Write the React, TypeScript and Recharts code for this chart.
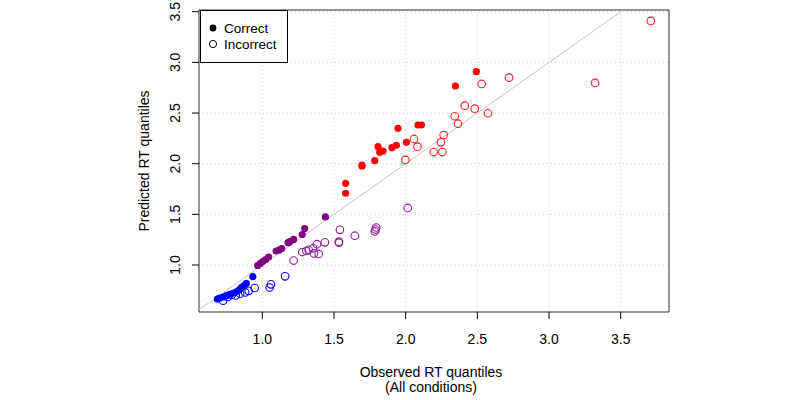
// Observed vs. predicted RT quantiles, split by accuracy and condition colour
import React from 'react';
import {
  CartesianGrid,
  Label,
  ReferenceArea,
  ReferenceLine,
  Scatter,
  ScatterChart,
  XAxis,
  YAxis,
} from 'recharts';

// Fast condition (blue)
const blueCorrectObs = [0.934, 0.888, 0.872, 0.853, 0.837, 0.819, 0.795, 0.772, 0.749, 0.725, 0.702, 0.686];
const blueCorrectPred = [0.885, 0.819, 0.796, 0.776, 0.753, 0.736, 0.721, 0.711, 0.697, 0.684, 0.674, 0.664];
const blueErrorObs = [1.159, 1.06, 1.051, 0.946, 0.904, 0.88, 0.845, 0.814, 0.786, 0.758, 0.726];
const blueErrorPred = [0.888, 0.809, 0.778, 0.773, 0.745, 0.729, 0.716, 0.699, 0.704, 0.684, 0.648];

// Middle condition (purple)
const purpleCorrectObs = [1.44, 1.295, 1.278, 1.218, 1.191, 1.18, 1.135, 1.117, 1.096, 1.044, 1.023, 1.004, 0.986, 0.967];
const purpleCorrectPred = [1.474, 1.36, 1.301, 1.252, 1.23, 1.22, 1.163, 1.148, 1.138, 1.079, 1.054, 1.037, 1.015, 0.995];
const purpleErrorObs = [2.014, 1.794, 1.789, 1.785, 1.541, 1.645, 1.436, 1.534, 1.534, 1.381, 1.353, 1.323, 1.307, 1.278, 1.36, 1.393, 1.218];
const purpleErrorPred = [1.563, 1.37, 1.35, 1.331, 1.347, 1.289, 1.224, 1.23, 1.22, 1.205, 1.165, 1.15, 1.138, 1.128, 1.114, 1.109, 1.044];

// Slow condition (red)
const redCorrectObs = [2.493, 2.347, 1.946, 2.086, 2.11, 1.807, 1.819, 1.842, 1.904, 1.935, 2.005, 1.784, 1.695, 1.695, 1.581, 1.581];
const redCorrectPred = [2.908, 2.767, 2.349, 2.382, 2.382, 2.168, 2.113, 2.125, 2.158, 2.182, 2.211, 2.03, 1.987, 1.977, 1.807, 1.708];
const redErrorObs = [2.721, 2.53, 2.412, 2.482, 2.574, 2.342, 2.365, 2.265, 2.058, 2.246, 2.082, 2.195, 2.256, 1.998, 3.71, 3.321];
const redErrorPred = [2.849, 2.787, 2.573, 2.543, 2.498, 2.468, 2.395, 2.283, 2.244, 2.211, 2.168, 2.115, 2.115, 2.037, 3.409, 2.797];

const xTicks = [1.0, 1.5, 2.0, 2.5, 3.0, 3.5];
const yTicks = [1.0, 1.5, 2.0, 2.5, 3.0, 3.5];

const X_DOMAIN: [number, number] = [0.558, 3.837];
const Y_DOMAIN: [number, number] = [0.536, 3.517];

const FONT = '"Liberation Sans", Arial, Helvetica, sans-serif';
const AXIS_FONT_SIZE = 14;

const zip = (xs: number[], ys: number[]) => xs.map((x, i) => ({ x, y: ys[i] }));

const filled = (color: string) => (p: any) => (
  <circle cx={p.cx} cy={p.cy} r={3.6} fill={color} stroke="none" />
);
const hollow = (color: string) => (p: any) => (
  <circle cx={p.cx} cy={p.cy} r={3.8} fill="none" stroke={color} strokeWidth={1.1} />
);

const YTick = ({ x, y, payload }: any) => (
  <text
    x={x}
    y={y}
    transform={`rotate(-90 ${x} ${y})`}
    textAnchor="middle"
    fontSize={AXIS_FONT_SIZE}
    fontFamily={FONT}
    fill="#000"
  >
    {Number(payload.value).toFixed(1)}
  </text>
);

const XTitle = ({ viewBox }: any) => {
  const cx = viewBox.x + viewBox.width / 2 - 3;
  return (
    <text textAnchor="middle" fontSize={AXIS_FONT_SIZE} fontFamily={FONT} fill="#000">
      <tspan x={cx} y={377}>Observed RT quantiles</tspan>
      <tspan x={cx} y={392}>(All conditions)</tspan>
    </text>
  );
};

const YTitle = ({ viewBox }: any) => {
  const cy = viewBox.y + viewBox.height / 2;
  return (
    <text
      x={149}
      y={cy}
      transform={`rotate(-90 149 ${cy})`}
      textAnchor="middle"
      fontSize={AXIS_FONT_SIZE}
      fontFamily={FONT}
      fill="#000"
    >
      Predicted RT quantiles
    </text>
  );
};

export default function App() {
  const series = [
    { data: zip(blueCorrectObs, blueCorrectPred), shape: filled('#0000ff') },
    { data: zip(blueErrorObs, blueErrorPred), shape: hollow('#0000ff') },
    { data: zip(purpleCorrectObs, purpleCorrectPred), shape: filled('#800080') },
    { data: zip(purpleErrorObs, purpleErrorPred), shape: hollow('#8b1a9b') },
    { data: zip(redCorrectObs, redCorrectPred), shape: filled('#ff0000') },
    { data: zip(redErrorObs, redErrorPred), shape: hollow('#ff2020') },
  ];

  return (
    <div style={{ position: 'absolute', left: 0, top: 0, width: 800, height: 400, background: '#fff' }}>
      <ScatterChart width={800} height={400} margin={{ top: 10, right: 131, bottom: 0, left: 0 }}>
        <CartesianGrid stroke="#d3d3d3" strokeDasharray="1 3" />
        <XAxis
          type="number"
          dataKey="x"
          domain={X_DOMAIN}
          ticks={xTicks}
          allowDataOverflow
          height={88}
          axisLine={false}
          tickLine={{ stroke: '#000' }}
          tickSize={7}
          tickMargin={15}
          tickFormatter={(v: number) => v.toFixed(1)}
          tick={{ fontSize: AXIS_FONT_SIZE, fontFamily: FONT, fill: '#000' }}
        >
          <Label content={XTitle} />
        </XAxis>
        <YAxis
          type="number"
          dataKey="y"
          domain={Y_DOMAIN}
          ticks={yTicks}
          allowDataOverflow
          width={199}
          axisLine={false}
          tickLine={{ stroke: '#000' }}
          tickSize={7}
          tickMargin={12}
          tick={<YTick />}
        >
          <Label content={YTitle} />
        </YAxis>
        {/* identity line */}
        <ReferenceLine
          segment={[
            { x: 0.5, y: 0.5 },
            { x: 3.9, y: 3.9 },
          ]}
          stroke="#c4c4c4"
          strokeWidth={1}
          ifOverflow="hidden"
        />
        {series.map((s, i) => (
          <Scatter key={i} data={s.data} shape={s.shape} isAnimationActive={false} />
        ))}
        {/* plot frame */}
        <ReferenceArea
          x1={X_DOMAIN[0]}
          x2={X_DOMAIN[1]}
          y1={Y_DOMAIN[0]}
          y2={Y_DOMAIN[1]}
          fill="none"
          fillOpacity={0}
          stroke="#333"
          strokeWidth={1}
          ifOverflow="visible"
        />
      </ScatterChart>

      {/* legend */}
      <svg
        width={800}
        height={400}
        style={{ position: 'absolute', left: 0, top: 0, pointerEvents: 'none' }}
      >
        <rect x={200.5} y={10.5} width={87} height={52} fill="#fff" stroke="#000" strokeWidth={1} />
        <circle cx={213} cy={28} r={3.4} fill="#000" />
        <text x={224} y={32.5} fontSize={13.5} fontFamily={FONT} fill="#000">Correct</text>
        <circle cx={213} cy={44} r={3.6} fill="none" stroke="#000" strokeWidth={1} />
        <text x={224} y={48.5} fontSize={13.5} fontFamily={FONT} fill="#000">Incorrect</text>
      </svg>
    </div>
  );
}
